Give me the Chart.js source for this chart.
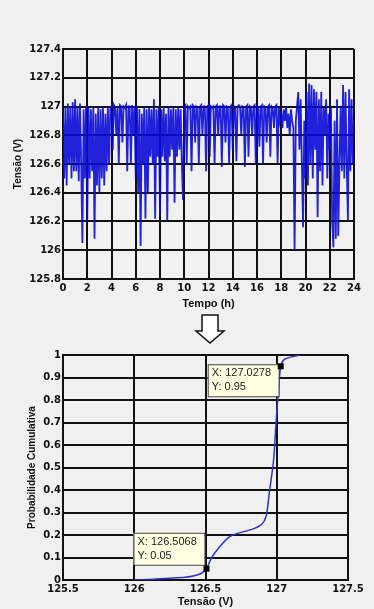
<!DOCTYPE html>
<html>
<head>
<meta charset="utf-8">
<script src="https://cdn.jsdelivr.net/npm/chart.js@4"></script>
<style>
  html, body { margin: 0; padding: 0; background: #f0f0f0; }
  #wrap { position: relative; width: 374px; height: 609px; overflow: hidden; }
  #c1 { position: absolute; left: 0; top: 0; }
  #c2 { position: absolute; left: 0; top: 315px; }
  #seta { position: absolute; left: 0; top: 0; }
</style>
</head>
<body>
<div id="wrap">
  <canvas id="c1" width="374" height="315"></canvas>
  <svg id="seta" width="374" height="360">
    <path d="M202 315 L218 315 L218 331 L224 331 L210 343 L196 331 L202 331 Z"
          fill="#ffffff" stroke="#111" stroke-width="1.5"/>
  </svg>
  <canvas id="c2" width="374" height="294"></canvas>
</div>
<script>
// Tensao medida ao longo do dia (amostras a cada 0,1 h, de 0 a 24 h)
var tensao = [
  126.95, 126.5, 127.0, 126.45, 127.02, 126.6, 127.0, 126.5, 127.03, 126.55,
  127.05, 126.55, 127.0, 126.48, 127.02, 126.6, 126.05, 126.98, 126.5, 127.0,
  126.2, 127.0, 126.5, 126.98, 126.55, 127.0, 126.08, 126.95, 126.45, 127.0,
  126.4, 126.98, 126.5, 127.0, 126.45, 126.95, 126.55, 127.0, 126.6, 126.98,
  127.0, 126.7, 127.01, 126.99, 126.8, 127.0, 126.6, 127.01, 127.0, 126.75,
  127.0, 126.99, 127.01, 126.55, 127.0, 127.0, 126.6, 127.01, 126.8, 127.0,
  126.5, 127.0, 126.4, 126.98, 126.03, 126.95, 126.6, 127.0, 126.22, 126.98,
  126.4, 127.0, 126.65, 126.98, 126.6, 127.05, 126.22, 126.98, 126.65, 127.0,
  126.25, 126.98, 126.65, 127.0, 126.62, 126.95, 126.2, 127.0, 126.65, 126.98,
  126.7, 127.0, 126.33, 126.98, 126.65, 127.0, 126.7, 126.98, 126.6, 126.35,
  127.0, 127.01, 126.6, 127.0, 126.99, 127.0, 126.55, 127.01, 127.0, 126.75,
  127.0, 126.99, 126.6, 127.0, 127.01, 126.8, 127.0, 127.0, 126.55, 127.0,
  127.01, 126.65, 127.0, 126.99, 127.0, 126.6, 127.0, 127.01, 126.8, 127.0,
  127.0, 126.58, 127.01, 127.0, 126.75, 127.0, 126.99, 126.6, 127.0, 127.01,
  126.7, 127.0, 126.99, 126.62, 127.0, 127.01, 127.0, 126.8, 127.0, 126.99,
  126.58, 127.0, 127.01, 126.65, 127.0, 126.99, 126.8, 127.0, 127.01, 126.6,
  127.0, 126.99, 126.72, 127.0, 127.01, 126.6, 127.0, 126.99, 126.75, 127.0,
  127.01, 126.65, 127.0, 126.99, 126.85, 127.0, 127.01, 126.6, 127.0, 126.9,
  126.95, 126.85, 126.98, 126.9, 127.0, 126.85, 126.95, 126.8, 126.98, 126.9,
  126.85, 126.0, 126.9, 127.0, 127.1, 126.7, 127.05, 126.6, 126.16, 126.9,
  126.5, 127.1, 126.45, 127.16, 126.6, 127.15, 126.5, 127.12, 126.7, 127.1,
  126.23, 127.05, 126.55, 127.1, 126.45, 127.0, 126.8, 127.05, 126.5, 126.95,
  126.7, 127.0, 126.2, 126.02, 126.9, 126.08, 127.05, 126.1, 126.6, 127.0,
  126.55, 127.15, 126.5, 127.1, 126.6, 126.21, 127.12, 126.55, 127.05, 126.6,
  126.9
];
var passoHoras = 0.1;

// Curva de probabilidade cumulativa
var cdfTensao = [126.0, 126.25, 126.44, 126.5068, 126.54, 126.60, 126.67, 126.77, 126.86, 126.91, 126.93, 126.95, 126.98, 126.995, 127.01, 127.0278, 127.07, 127.16];
var cdfProb   = [0.0, 0.008, 0.022, 0.05, 0.096, 0.148, 0.193, 0.215, 0.234, 0.26, 0.296, 0.4, 0.548, 0.696, 0.83, 0.95, 0.985, 1.0];

// Data tips
var tipX = [126.5068, 127.0278];
var tipY = [0.05, 0.95];

var tickFont = { family: 'DejaVu Sans', weight: 'bold', size: 10 };
var fmt = function (v) { return String(+v.toFixed(1)); };

// CHART 1 - TENSAO x TEMPO
var ctx1 = document.getElementById('c1').getContext('2d');
new Chart(ctx1, {
  type: 'line',
  data: {
    datasets: [{
      data: tensao.map(function (v, i) { return { x: i * passoHoras, y: v }; }),
      borderColor: 'rgba(10,10,215,0.9)',
      borderWidth: 1.8,
      pointRadius: 0,
      tension: 0
    }]
  },
  options: {
    responsive: false,
    animation: false,
    layout: { padding: { left: 0, right: 20, top: 49, bottom: 0 } },
    plugins: { legend: { display: false }, tooltip: { enabled: false } },
    scales: {
      x: {
        type: 'linear', min: 0, max: 24,
        ticks: { stepSize: 2, color: '#111', font: tickFont, padding: 3, maxRotation: 0 },
        grid: { color: '#111', lineWidth: 2, drawTicks: false },
        border: { color: '#111', width: 2 },
        title: { display: true, text: 'Tempo (h)', color: '#111',
                 font: { family: 'Liberation Sans', weight: 'bold', size: 11 }, padding: { bottom: 4 } },
        afterFit: function (s) { s.height = 36; }
      },
      y: {
        min: 125.8, max: 127.4,
        ticks: { stepSize: 0.2, color: '#111', font: tickFont, padding: 2, callback: fmt },
        grid: { color: '#111', lineWidth: 2, drawTicks: false },
        border: { color: '#111', width: 2 },
        title: { display: true, text: 'Tensão (V)', color: '#111',
                 font: { family: 'Liberation Sans', weight: 'bold', size: 10 }, padding: { top: 12 } },
        afterFit: function (s) { s.width = 63; }
      }
    }
  }
});

// CHART 2 - PROBABILIDADE CUMULATIVA
var tipsPlugin = {
  id: 'tips',
  afterDatasetsDraw: function (chart) {
    var c = chart.ctx, x = chart.scales.x, y = chart.scales.y;
    c.save();
    tipX.forEach(function (tx, i) {
      var px = x.getPixelForValue(tx), py = y.getPixelForValue(tipY[i]);
      var w = 71, h = 32;
      var bx = px - 73;
      var by = tipY[i] > 0.5 ? py - 2 : py - 36;
      c.fillStyle = '#ffffe1';
      c.strokeStyle = '#444';
      c.lineWidth = 1;
      c.fillRect(bx, by, w, h);
      c.strokeRect(bx + 0.5, by + 0.5, w, h);
      c.fillStyle = '#222';
      c.font = '11px "Liberation Sans"';
      c.textBaseline = 'middle';
      c.fillText('X: ' + tx, bx + 4, by + 9);
      c.fillText('Y: ' + tipY[i], bx + 4, by + 23);
      c.fillStyle = '#000';
      c.fillRect(px - 3, py - 3, 6, 6);
    });
    c.restore();
  }
};

var ctx2 = document.getElementById('c2').getContext('2d');
new Chart(ctx2, {
  type: 'line',
  data: {
    datasets: [{
      data: cdfTensao.map(function (v, i) { return { x: v, y: cdfProb[i] }; }),
      borderColor: '#3030c8',
      borderWidth: 1.5,
      pointRadius: 0,
      cubicInterpolationMode: 'monotone'
    }]
  },
  options: {
    responsive: false,
    animation: false,
    layout: { padding: { left: 0, right: 26, top: 40, bottom: 0 } },
    plugins: { legend: { display: false }, tooltip: { enabled: false } },
    scales: {
      x: {
        type: 'linear', min: 125.5, max: 127.5,
        ticks: { stepSize: 0.5, color: '#111', font: tickFont, padding: 3, maxRotation: 0, callback: fmt },
        grid: { color: '#111', lineWidth: 2, drawTicks: false },
        border: { color: '#111', width: 2 },
        title: { display: true, text: 'Tensão (V)', color: '#111',
                 font: { family: 'Liberation Sans', weight: 'bold', size: 11 }, padding: { bottom: 0 } },
        afterFit: function (s) { s.height = 29; }
      },
      y: {
        min: 0, max: 1,
        ticks: { stepSize: 0.1, color: '#111', font: tickFont, padding: 2, callback: fmt },
        grid: { color: '#111', lineWidth: 2, drawTicks: false },
        border: { color: '#111', width: 2 },
        title: { display: true, text: 'Probabilidade Cumulativa', color: '#111',
                 font: { family: 'Liberation Sans', weight: 'bold', size: 10 }, padding: { top: 26 } },
        afterFit: function (s) { s.width = 63; }
      }
    }
  },
  plugins: [tipsPlugin]
});
</script>
</body>
</html>
